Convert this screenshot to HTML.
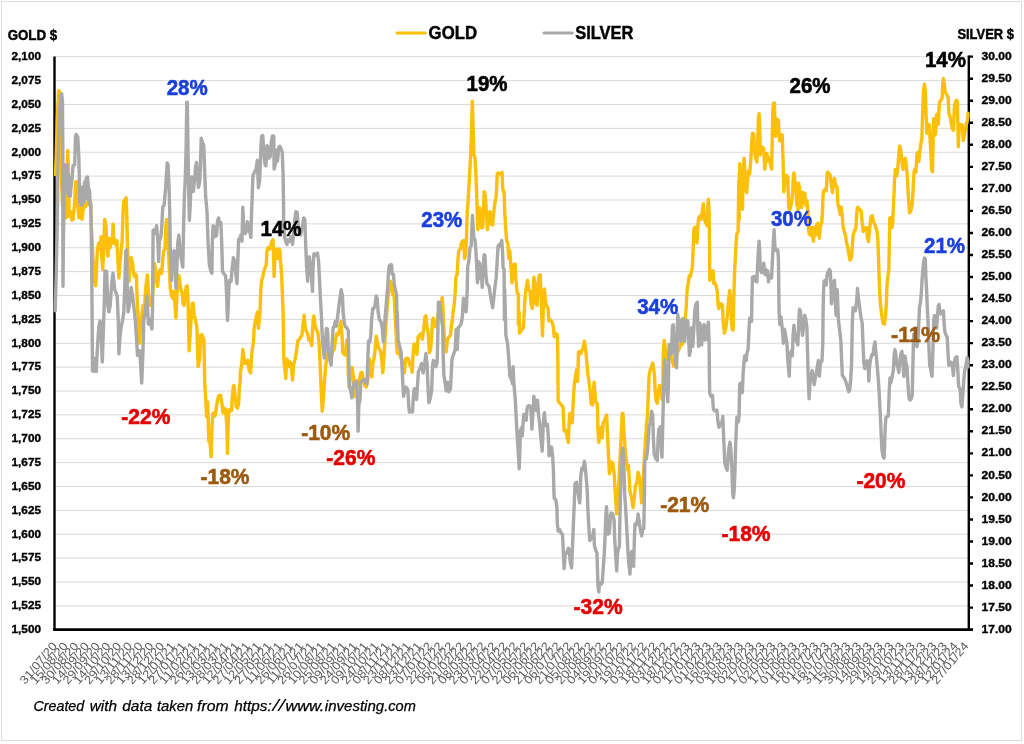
<!DOCTYPE html>
<html lang="en"><head><meta charset="utf-8"><title>Gold and Silver</title>
<style>
html,body{margin:0;padding:0;background:#fff;}
body{width:1024px;height:744px;overflow:hidden;}
svg{display:block;font-family:"Liberation Sans", sans-serif;}
.ax{font-weight:bold;font-size:11.2px;fill:#000;stroke:#000;stroke-width:.35px;}
.dt{font-size:11.6px;fill:#595959;}
.an{font-weight:bold;font-size:22.4px;stroke-width:.6px;}
.tt{font-weight:bold;fill:#000;stroke:#000;stroke-width:.45px;}
</style></head><body>
<svg width="1024" height="744" viewBox="0 0 1024 744">
<rect x="0" y="0" width="1024" height="744" fill="#fff"/>
<rect x="1.5" y="1.5" width="1020" height="739" fill="none" stroke="#dcdcdc" stroke-width="1"/>
<path d="M54.5 56.75H968.8M54.5 80.62H968.8M54.5 104.5H968.8M54.5 128.38H968.8M54.5 152.25H968.8M54.5 176.12H968.8M54.5 200H968.8M54.5 223.88H968.8M54.5 247.75H968.8M54.5 271.62H968.8M54.5 295.5H968.8M54.5 319.38H968.8M54.5 343.25H968.8M54.5 367.12H968.8M54.5 391H968.8M54.5 414.88H968.8M54.5 438.75H968.8M54.5 462.62H968.8M54.5 486.5H968.8M54.5 510.38H968.8M54.5 534.25H968.8M54.5 558.12H968.8M54.5 582H968.8M54.5 605.88H968.8" stroke="#d9d9d9" stroke-width="1" fill="none"/>
<g stroke="#000" stroke-width="2.4" fill="none">
<path d="M54.5 56.5V630.6"/>
<path d="M53.3 629.6H973" stroke-width="2.6"/>
<path d="M968.8 55.4V630.6"/>
<path d="M968.8 56.65H973M968.8 78.69H973M968.8 100.73H973M968.8 122.77H973M968.8 144.8H973M968.8 166.84H973M968.8 188.88H973M968.8 210.92H973M968.8 232.96H973M968.8 255H973M968.8 277.03H973M968.8 299.07H973M968.8 321.11H973M968.8 343.15H973M968.8 365.19H973M968.8 387.23H973M968.8 409.27H973M968.8 431.3H973M968.8 453.34H973M968.8 475.38H973M968.8 497.42H973M968.8 519.46H973M968.8 541.5H973M968.8 563.53H973M968.8 585.57H973M968.8 607.61H973"/>
</g>
<g fill="none" stroke-linejoin="round" stroke-linecap="round" stroke-width="3.4">
<polyline stroke="#fcbf0a" points="55.5,174.6 56.2,155.4 57.3,119.4 58.6,90.7 59.4,91.3 60,111.6 60.6,149.1 61.6,180.4 62.5,205.4 63.8,199.1 65,211.6 66.2,217.9 67.2,164.8 67.7,150.4 68.3,164.8 69.2,216.3 70.6,211.6 71.9,220.2 73.1,219.4 74.4,205.4 75.8,181.9 76.6,181.6 77.5,202.2 78.9,217.9 80.5,205.4 82,219.4 83.6,205.4 85.2,206.9 86.2,203 87.5,204.6 89.1,198.3 90.3,200.7 91.4,227.2 93,258.5 94.5,280.4 95.8,285.8 96.9,258.5 97.8,247.6 98.8,242.9 100,249.1 101.1,236.6 101.9,258.5 102.7,269.4 103.6,250.7 104.7,219.4 105.9,225.7 106.7,242.9 107.8,256.2 109.1,238.2 110.2,247.6 111.2,241.3 112.2,242.9 113.1,224.1 114.1,242.9 115.3,244.4 116.9,240.5 117.8,258.5 118.9,278 120,261.6 121.1,252.2 122.2,239.8 123.1,211.6 123.8,200.7 125,199.9 126.2,197.9 126.9,219.4 127.5,247.6 128.4,271 129.1,281.2 130,263.2 131.2,257.7 132.5,263.2 133.4,272.6 134.4,276.5 135.6,274.1 136.4,275.7 137,296 137.8,311.9 139.5,343.2 140.6,328.8 141.9,314.8 143,305.4 144.5,308.5 145.6,289.8 147.3,274.9 148.4,292.9 150,305.4 151.6,303.8 153.1,289.8 154.4,263.2 155.6,269.4 157.5,286.3 159.1,272.6 160.3,269.4 161.7,273.3 162.8,258.5 163.8,250.7 165,249.1 165.8,227.2 166.6,219.4 167.5,225.7 168.4,247.6 169.4,271 170.3,288.2 171.6,296 172.8,298.3 173.9,291.3 175,305.4 175.9,317.9 176.9,296 177.8,283.5 178.9,275.4 180,283.5 180.9,289.8 182,292.1 183.1,303.8 184.1,305.4 185.3,296 186.2,286.6 187.2,285.8 188.1,302.2 189.1,350.7 190.6,327.2 192.2,303.8 193.1,303 194.1,314.8 195.3,319.4 196.9,327.2 198.1,366.6 199.7,358.5 200.8,335.4 201.9,334.6 203.9,339.8 204.7,383.1 205.8,400.3 206.6,416.7 207.7,401.9 208.4,426.9 208.9,441.7 210,442.5 211.2,456.6 212,426.9 212.8,413.6 214.1,412.8 215.2,415.9 216.2,408.1 217.5,400.3 218.8,395.6 220.6,395.3 221.9,403.4 223,412.8 224.2,408.1 225.6,409.7 226.9,426.9 227.5,453.4 228.1,426.9 228.8,409.7 230,411.2 231.6,410.5 232.3,397.2 233.1,387.8 233.9,385.5 235,395.6 236.2,406.6 237.5,408.1 238.6,403.4 239.4,387.8 240.2,380 240.5,371.4 241.7,365.1 242.8,349.5 244.1,358.9 245.2,363.6 246.7,362 247.8,360.4 249.1,369.8 250.6,372.9 251.4,358.9 252.2,349.5 253.4,343.2 254.2,327.6 255.3,321.4 256.6,315.1 257.7,312 258.4,328.4 259.2,319.8 260,312 260.8,289.8 261.6,280.4 262.8,277.2 263.9,271 265,267.9 266.2,264.8 267,250.7 268.1,247.6 269.4,249.1 270.6,246.8 271.7,241.3 273,239.8 273.6,258.5 274.1,276.5 274.8,258.5 275.6,250.7 276.9,249.1 278,258.5 278.8,249.1 279.8,249.9 280.6,261.6 281.6,274.1 282.2,289.8 283.1,311.9 283.4,327.6 283.8,358.9 284.7,368.2 285.8,378.4 286.6,358.9 287.7,360.4 288.9,366.7 290,362 291.2,363.6 292.5,380 293.6,365.1 295.2,358.9 296.7,349.5 297.8,340.9 299.4,339.3 300.6,337 301.9,335.4 303,324.5 304.1,315.1 305,326.1 306.1,330.8 307.7,333.9 308.8,340.1 310,339.3 311.6,345.6 312.3,335.4 313.1,321.4 313.9,315.9 315,324.5 316.2,329.2 317.8,332.3 319.1,343.2 320.2,366.7 321.2,390.1 322.2,411.2 323.3,399.5 324.4,382.3 325.6,366.7 326.9,357.3 328.8,351.1 331.1,358.9 332.7,351.1 334.2,349.5 335,343.2 336.6,333.9 338.1,334.7 339.7,329.2 340.9,321.4 342,335.4 342.8,352.6 344.1,354.2 345.6,355 346.7,340.1 347.8,351.1 348.3,374.5 349.1,387 350.6,377.6 352.2,367.5 353.4,377.6 354.5,396.4 356.1,387 357.7,385.4 359.2,380.8 360.8,372.9 361.9,372.2 363.1,379.2 364.7,385.4 366.2,387 367.8,380.8 369.4,358.9 370.8,371.4 371.9,376.8 372.8,363.6 373.9,358.9 375,351.1 376.2,336.2 377.5,343.2 378.6,347.9 379.7,349.5 380.6,351.1 381.7,358.9 382.8,372.9 383.8,358.9 384.8,343.2 385.6,327.6 386.9,312 388,297.6 389.5,288.2 390.6,281.2 391.9,286.6 393.1,295.2 394.2,296 395,311.9 395.8,327.6 396.6,343.2 397.3,353.4 398.9,352.6 401.2,358.9 402.8,363.6 404.4,372.9 405.6,358.9 407.2,358.1 408.3,358.9 409.8,365.1 410.9,363.6 412.2,372.2 413,355.8 414.1,344 415.3,344.8 416.9,354.2 418.1,337 419.2,335.4 420.8,333.9 422.3,339.3 423.9,327.6 425,316.7 425.9,315.9 427,327.6 428.1,332.3 429.4,352.6 430.6,349.5 431.7,335.4 432.5,319.8 433.3,318.2 434.4,321.4 435.6,326.8 436.9,322.9 438.1,315.1 439.5,305.8 441.1,305.4 442.2,297.6 443.1,311.6 443.8,327.6 444.7,343.2 446.2,351.8 447.3,340.1 448.9,337 450.5,335.4 451.2,327.6 452.5,318.2 453.4,310.1 454.1,305.4 455.2,292.9 455.9,277.2 457.2,274.1 458,258.5 458.8,250.7 460.3,249.1 461.4,242.9 462.5,241.3 463.8,240.5 464.5,258.5 465.6,255.4 466.6,235.1 467.2,211.6 467.7,206.9 468.4,196 469.7,173.8 470.8,150.3 471.6,126.9 472.3,101.1 473.1,126.9 473.9,155 475,158.1 475.9,173.8 476.7,195.9 477.2,211.6 477.8,229.6 478.6,219.4 479.4,207.7 480.6,211.6 481.7,228 482.8,227.2 483.4,211.6 484.1,191.7 485.3,196 486.4,211.6 487.5,229.6 488.8,213.2 490,211.6 491.1,224.1 492.7,224.9 493.8,211.6 495,202.2 496.2,196 497.3,173.8 498.1,173 499.4,173.8 500.5,173.8 502,172.2 502.8,189.4 504.1,192.5 504.7,211.6 505.6,227.2 506.7,241.3 507.8,242.9 508.8,258.5 509.8,250.7 510.6,261.6 511.9,282.7 513,274.1 514.1,264.8 515,264 516.1,281.9 517.2,292.9 518.4,294.4 518.4,324.5 519.2,311.9 519.5,333.1 520.8,330.8 522.3,329.2 523.4,327.6 524.7,302.2 525.9,289.8 527.5,280.4 528.6,289.8 530,291.3 531.2,305.3 532.3,308.4 533.1,291.2 533.9,277.2 535,283.4 535.9,303.8 537,305.3 537.8,291.2 539.1,275.6 540.2,274.8 540.9,291.2 541.7,314.7 542.5,335.8 543.3,306.9 544.4,288.9 545.3,299.1 546.1,305.3 547.2,306.9 548,308.4 548.8,320.9 550,319.4 551.1,320.9 552.2,322.5 553.4,327.2 554.2,336.6 555.8,333.4 557.3,335 557.8,353.8 558,375.9 558.1,401 559.4,402.6 560.5,404.1 562,405.7 563.1,407.2 564.1,430.7 565.2,429.9 566.2,432.2 567.5,438.5 568.3,442.4 569.1,422.9 569.8,413.5 570.9,413.5 572.2,422.9 573,407.2 573.8,391.6 574.5,382.2 575.6,376 576.6,369.8 577.5,381.5 578.1,368.2 578.4,352.2 579.7,351.4 580.8,353.8 581.9,350.6 583.1,347.5 584.4,341.2 585.5,347.5 586.6,360 587.5,369.4 588.1,376 589.1,382.2 590.2,391.6 591.2,404.1 592.5,404.9 593.3,391.6 594.1,382.2 594.8,391.6 595.6,401.8 596.9,402.6 597.5,407.2 598,430.7 598.8,442.4 600,430.7 601.1,427.6 602.2,437.7 603.1,422.9 604.2,421.3 605.3,418.2 606.6,415.1 607.3,430.7 608.1,446.3 608.9,463.5 609.4,473.7 610.5,469.8 611.6,461.9 612.8,463.5 614.1,472.9 615.2,491.9 616.7,513.9 619.1,477.6 620.3,454.1 621.4,430.7 622.2,413.5 623,413.5 623.8,430.7 625.3,451 626.6,463.5 627.7,469.8 628.4,465.1 629.2,477.6 630,491.9 631.6,498.2 633.1,507.6 634.4,496.7 635.5,485.4 637,482.2 638.1,472.1 639.4,477.6 640.2,486.9 641.7,502.9 642.8,485.4 643.8,469.8 644.4,457.2 645.6,438.5 646.4,426 647.5,415.1 648.4,391.6 649.1,376 650.3,369.4 651.6,366.2 652.7,363.1 653.8,369.4 654.5,375.9 655,388.5 656.2,401 657.3,403.3 658.4,391.6 659.7,385.4 660.9,390.1 662,399.4 662.8,383.8 663.3,353.8 664.1,340.5 665.2,347.5 666.2,356.9 667.5,360 668.8,353.8 669.8,347.5 671.4,356.9 672.5,361.6 673.8,366.2 675.3,361.6 676.9,353.8 678.4,350.6 679.7,347.5 680.8,342.8 682.3,344.4 683.9,338.1 685,322.5 686.2,306.9 687,291.2 688.1,283.4 689.4,275.6 690.3,276.5 691.2,272.6 692.3,267.9 693.1,250.7 693.9,228.8 695,227.2 695.9,228.8 697,242.9 697.8,227.2 698.6,217.9 699.7,216.3 700.9,219.4 702.2,211.6 703.3,203.8 704.4,219.4 705.6,222.6 706.9,225.7 707.5,211.6 708.4,199.1 709.1,211.6 709.5,242.9 709.8,280.4 711.1,277.2 712.2,274.1 713.1,271 713.8,283.5 715,282.7 716.2,286.6 717.3,291.3 718.1,305.4 718.9,308.5 720,303.8 721.2,303.8 722.5,305.4 723.1,321.4 724.4,333.1 725.9,327.6 727.2,316.7 728.8,297.6 729.8,290.5 730.6,302.2 731.4,321.4 732.3,329.5 733.1,330 733.8,297.6 734.5,274.1 735.3,258.5 736.1,242.9 736.9,233.5 738.1,231.9 738.8,181.6 739.2,219.4 739.2,173.8 739.7,196 739.7,163.6 740.8,173.8 741.6,195.9 742.5,209.2 743.1,173.8 744.1,158.1 745,173.8 745.9,189.4 746.6,192.5 747.5,181.6 748.6,170.6 749.7,173.8 750.9,158.1 751.7,142.5 752.5,133.1 753.8,133.9 754.4,150.3 755.6,158.1 756.9,162 757.7,142.5 758.4,119.1 759.1,113.6 759.7,126.9 760.3,155 761.6,148.8 762.7,147.2 763.8,148.8 764.7,169.1 765.8,158.1 766.9,153.4 768.1,161.2 769.4,158.1 770.5,164.4 771.6,169.1 772.2,142.5 772.8,111.2 773.4,103.4 774.4,103.1 775.2,126.9 775.6,136.2 776.7,126.9 777.5,119.1 778.4,120.6 779.1,134.7 779.8,140.9 780.9,134.7 782.2,134.7 783,158.1 783.4,173.8 783.8,191.7 785,176.9 786.1,175.3 787.7,176.9 788.3,195.9 788.8,208.5 790,209.3 791.6,202.2 792.7,192.5 793.1,181.6 793.9,173 795,181.6 796.2,192.5 796.9,205.4 797.5,189.4 798.1,210.1 798.6,183.1 799.7,189.4 800.6,202.2 801.7,207.7 802.8,192.5 804.1,202.2 804.8,193.3 805.9,205.4 806.9,200.7 808,211.6 808.4,227.2 809.1,233.5 810.3,235.1 811.6,227.2 812.7,236.6 813.4,241.3 814.7,227.2 815.8,235.1 816.9,224.1 818.1,223.3 819.4,238.2 820.5,225.7 821.6,224.1 822.5,211.6 823,196 823.6,190.9 825.2,189.4 826.2,190.9 827.2,173.8 827.8,172.2 829.1,173.8 830.3,175.3 831.4,186.2 832.5,192.5 833.4,181.6 834.5,178.4 835.6,186.2 836.9,186.2 837.5,195.9 837.8,203.8 839.2,208.5 840.3,214.8 841.2,206.9 842.3,216.3 843.1,227.2 844.4,231.9 845.5,235.1 846.6,242.9 847.8,247.6 849.1,255.4 850,260.1 850.8,258.8 851.6,257.2 852.3,246.3 853.1,235.4 854.4,230.7 855.5,229.9 856.2,222.9 857,210.4 857.8,207.2 859.1,208.8 860.2,210.4 861.2,211.2 862.2,222.9 863.3,231.5 864.4,229.1 865.6,227.6 866.9,227.6 867.5,238.5 868.4,241.6 869.5,230.7 870.3,222.9 871.1,216.6 872.2,215.8 873.4,221.3 874.7,224.4 875.8,227.6 876.9,230.7 877.8,238.5 878.4,254.1 879.1,277.6 879.7,291.9 880.5,304.5 882,317 883.1,323.2 884.4,324 885.6,315.4 886.4,301.4 887,285.4 887.8,277.6 888.8,269.8 889.4,238.5 889.8,218.2 890.9,217.4 891.9,227.6 892.7,222.9 893.4,207.2 894.1,191.6 894.5,180.7 895.3,169.4 896.6,175.9 897.7,169.4 898.8,153.8 899.7,145.9 900.8,150.6 901.9,161.6 903.1,169.4 904.4,160 905.5,158.4 906.6,169.4 907.3,175.9 908.1,191.6 909.1,207.2 909.7,212.7 910.9,210.4 912.2,204.1 913,191.6 913.4,182.2 914.1,171.2 914.8,169.4 915.9,172.5 916.9,153.8 918,152.2 918.8,161.6 919.5,153.8 920.6,145.9 921.9,138.1 922.7,110 923.4,91.2 924.4,84.2 925.3,91.2 926.2,117.8 926.9,133.4 928.1,124.1 929.4,125.6 930,138.1 930.9,153.8 931.6,169.4 932.5,171.7 933.1,138.1 933.6,118.6 934.4,119.4 935.2,135 935.9,128.8 936.7,114.7 937.5,113.9 938.4,124.1 939.1,106.9 939.8,101.4 940.9,100.6 942.2,97.5 942.8,83.4 943.4,78.4 944.2,83.4 945,91.2 946.1,93.6 947.2,95.9 948.1,96.7 948.8,113.1 950,116.2 951.2,122.5 952.3,128.8 953.4,130.3 954.4,106.9 955.5,101.4 956.6,100.3 957.3,101.4 957.8,122.5 958.3,146.7 959.1,130.3 959.7,124.1 960.9,125.6 962.2,124.8 963.3,140.5 964.4,135 965.6,127.2 966.9,122.5 968,116.2 968,113.1"/>
<polyline stroke="#a9a9a9" points="55.2,310.8 56.2,274.1 57.2,227.2 57.8,180.4 58.6,141.3 59.7,110.1 60.6,96 61.7,93.7 62.5,102.2 62.8,149.1 62.9,242.9 63,286.3 63.4,242.9 64.1,196 64.5,164.8 65.2,189.8 65.8,167.9 66.4,192.9 67,164.8 67.7,189.8 68.3,174.1 68.9,196 69.5,177.2 70.3,196 71.1,186.6 71.9,180.4 73.1,165.5 74.7,164.8 75.5,136.6 76.2,134.3 77.8,137.4 78.8,156.9 79.4,180.4 79.8,202.2 80.5,191.3 80.9,205.4 81.7,187.4 82.3,203.8 83.1,186.6 83.8,202.2 84.5,181.9 85.3,199.1 86.2,178 86.9,189.8 87.5,176.9 88.3,186.6 88.9,200.7 89.5,189.8 90.2,205.4 90.9,203.8 91.4,242.9 91.9,289.8 92.5,371 93.4,371.3 94.8,358.5 96.2,371.6 97.7,342.9 98.8,327.2 100,321 101.2,336.6 102.3,361.9 103.4,328.8 104.2,305.4 105,271 106.6,271.3 107.8,305.4 108.9,311.9 110.2,305.4 111.7,283.5 113,273.3 114.1,283.5 114.8,289.8 117.2,296 118.3,321 118.9,353.8 120,336.6 121.1,327.2 122.7,319.4 123.8,311.9 124.7,289.8 125.8,250.7 126.6,249.9 127.3,289.8 128.1,311.9 129.4,305.4 131.2,287.4 132.8,297.6 134.4,311.9 135.2,319.4 136.4,336.6 137.5,355.4 139.8,350.7 141.7,383 143,350.7 143.8,319.4 145.3,311.9 146.9,296 148.4,324.1 150,319.4 151.9,329.1 152.5,311.9 153.1,230.4 154.4,229.6 155.5,233.5 156.6,225.7 157.8,239.8 158.6,261.6 159.4,241.3 160.9,236.6 161.7,227.2 162.8,206.9 164.1,205.4 165.6,188.2 167.2,162.9 168.1,164.8 169.1,188.2 169.7,211.6 170.3,249.1 171.6,280.4 172.7,253.8 174.2,250.7 175,255.4 175.9,288.2 176.9,267.9 177.8,242.9 178.8,235.1 180,249.1 181.2,258.5 182.8,267.1 183.6,227.2 184.4,196 185.2,180.4 186.1,149.1 186.8,102.2 187.3,102.2 188,149.1 188.8,196 189.4,220.2 190.3,203.8 191.1,180.4 191.6,176.9 192.5,188.2 193.4,191.3 194.5,180.4 195.6,166.3 196.6,162.4 197.7,177.2 198.4,187.4 199.7,181.9 200.5,164.8 201.2,138.2 202.3,141.3 203.8,145.7 204.7,172.6 205.6,196 207,211.6 208.1,242.9 209.4,264.8 210.8,271 211.9,273.3 212.3,242.9 213.1,225.7 214.4,227.2 215.5,236.6 216.6,235.1 217.5,221 218.6,217.9 219.7,224.1 220.9,222.6 221.7,242.9 222.5,271 224.1,274.1 225.6,275.7 226.4,289.8 227.2,311.9 227.5,320.5 228,311.9 228.8,289.8 229.5,280.4 231.1,281.2 231.9,271 233.4,257.7 234.7,261.6 235.8,274.1 237,283.5 237.8,261.6 238.6,239.8 239.7,238.2 240.9,235.1 242,241.3 242.8,207.2 243.8,227.2 245.2,233.5 246.2,231.9 247.5,221.8 248.8,227.2 249.8,231.9 250.9,237.4 251.6,211.6 252.2,196 253,175.3 254.5,172.2 256.1,169.1 257.3,160.5 258.4,187.8 259.7,180 260.8,150.3 261.6,136.2 262.8,135.5 263.9,155 265,164.4 265.9,165.9 267,145.6 268.1,147.2 269.1,158.1 270.2,156.6 271.2,142.5 272.5,135.9 273.8,136.2 274.1,169.1 275.3,164.4 276.4,150.3 277.5,161.2 278.8,147.2 279.8,146.4 281.1,148.8 282.2,151.9 283.1,173.8 283.4,195.9 283.8,227.2 284.7,238.2 285.8,241.3 287,244.4 288.1,239.8 289.4,241.3 291.2,236.6 292.5,244.4 293.6,235.1 294.8,219.4 295.9,211.6 297.2,212.4 298.3,227.2 299.4,233.5 300.6,235.1 302.2,227.2 303.8,217.9 304.8,219.4 305.6,242.9 306.6,266.3 307.7,281.2 308.4,258.5 309.4,256.9 310.3,266.3 311.6,277.2 312.5,291.3 313.1,266.3 313.9,253.8 315,255.4 316.2,254.6 317.5,253 318.6,261.6 319.4,277.2 320.3,296 321.2,311.9 322.2,335.4 323.3,351.1 324.4,358.1 325.3,343.2 326.4,328.4 327.5,329.2 328.4,351.1 329.5,358.9 331.1,365.1 332.2,343.2 333.1,327.6 334.2,326.8 335.3,321.4 336.6,326.1 337.8,315.1 338.9,305.8 340,297.6 341.2,289.8 342.5,296.4 343.1,312 344.1,321.4 345.3,326.8 346.7,327.6 348.3,330.8 348.8,358.9 349.4,387 350.6,390.1 351.9,397.9 353,387 354.1,382.3 355.3,385.4 356.6,380.8 357.7,405.8 358.1,431.1 358.8,405.8 360,399.5 360.8,382.3 362.3,380.8 363.9,379.2 365.5,382.3 367,383.9 367.8,358.9 368.6,340.9 370,341.7 370.8,335.4 371.6,319.8 372.8,308.5 373.9,308.5 375,305.4 376.2,296 377.3,299.1 378.1,311.9 379.4,319.8 380.9,321.4 382.2,327.6 383.3,341.7 384.4,327.6 385.3,315.1 386.4,302.2 387.5,289.8 388.4,274.1 389.1,266.3 390.3,264.8 391.6,264.8 392.2,274.1 393.4,274.1 394.2,283.5 395.3,289.8 396.6,294.4 396.9,327.6 397.3,311.9 398.1,340.1 399.7,346.4 401.2,352.6 402,366.7 402.8,383.9 403.6,396.4 405.2,387 406.7,387.8 407.8,390.1 408.8,405.8 409.4,412 410.9,411.2 412.5,412 413.4,396.4 414.2,388.6 415.3,391.7 416.6,399.5 417.7,382.3 418.4,371.4 420,368.2 421.6,363.6 423.1,372.9 424.7,363.6 425.9,353.4 427,363.6 427.8,382.3 428.8,402.6 430.2,398.7 431.7,390.1 432.5,366.7 433.3,360.4 434.8,362 435.9,366.7 437.2,362 438,327.6 438.4,302.2 439.5,302.2 440.6,311.9 442.7,327.6 443.1,351.1 443.8,374.5 445,382.3 446.2,390.9 447.8,382.3 448.9,391.7 450.5,388.6 451.2,374.5 452,358.9 453.6,354.2 455.2,349.5 456.2,329.2 457.2,349.5 458.3,327.6 459.8,326.1 461.4,322.9 462.5,315.1 463.4,298.3 465,305.4 466.1,311.9 466.6,305.4 467.2,289.8 467.7,266.3 468.8,261.6 470,247.6 471.2,246 471.9,227.2 472.5,215.5 473.1,227.2 473.9,238.2 475,239.8 475.9,250.7 476.7,266.3 477.5,282.7 478.6,261.6 479.7,263.2 480.6,278.8 481.2,267.9 482.2,287.4 483.3,266.3 484.1,254.6 485,255.4 485.9,274.1 486.9,283.5 488,285.1 489.1,286.6 490.3,294.4 491.6,302.2 492.7,307.7 493.8,297.6 495,286.6 496.2,277.2 497.3,258.5 498.1,246 499.4,244.4 500.5,246 501.7,240.5 502.5,250.7 503.1,267.9 504.1,269.4 504.4,319.8 504.7,289.8 505.3,311.9 505.9,335.4 507.5,343.2 508.8,358.9 509.8,376.1 511.4,379.2 512.5,383.9 513.1,366.7 513.8,382.3 515.3,400 516.1,415.6 516.9,431.2 517.7,443.8 518.4,454.7 519.2,468.8 520,446.9 520.3,431.2 521.2,428.1 522.3,435.9 523.1,423.4 523.9,414.1 525.5,415.6 526.2,420.3 527,409.4 527.8,406.2 529.4,405.5 530.8,407.2 531.9,429.1 532.8,415.1 533.9,396.3 535,407.2 536.2,410.4 537.5,400.2 538.6,415.1 539.7,424.4 540.9,438.5 542.2,451 543.3,422.9 544.4,412.7 545.3,422.9 546.4,426 547.5,424.4 548.4,438.5 549.1,455.7 550.3,449.4 551.6,447.1 552.7,457.2 553.4,469.8 553.9,491.9 554.2,498.2 555.8,499.8 556.9,507.6 557.3,523.2 558.1,531.1 559.7,529.5 561.2,533.4 562.5,534.2 563.1,546.7 563.6,557.6 564.1,568.6 565.2,554.5 566.7,552.9 568.3,548.2 569.1,549.8 570.3,562.3 571.6,567.8 572.5,546.7 573.4,523.2 574.1,507.6 574.7,492 575,483.8 576.6,482.2 577.7,488.5 578.4,495.1 579.7,502.9 580.3,492 580.8,476 581.9,468.2 583.1,469.8 584.4,461.2 585.5,469.8 586.6,482.2 587.3,491.9 587.8,507.6 589.1,531.1 589.7,540.4 590.9,538.9 592.5,537.3 593.8,529.5 594.4,545.1 595.6,549.8 596.9,552.9 597.5,570.1 598,585.8 598.8,592 599.5,582.6 601.1,584.2 602.2,582.6 603.1,570.1 604.2,554.5 605,538.9 605.8,515.4 606.6,506.8 607.3,523.2 608.1,534.2 609.4,532.6 610.5,515.4 611.2,513.1 612.8,513.9 614.1,520.1 614.7,538.9 615.6,554.5 616.7,570.9 617.5,554.5 618.3,548.2 619.4,546.7 619.8,523.2 620.6,492 621.2,469.8 621.9,454.1 622.7,447.9 623.4,454.1 624.2,477.6 624.8,496.7 625.6,507.6 626.9,531.1 628.1,554.5 629.2,567 630,574 630.8,554.5 631.9,551.4 632.8,565.4 633.6,566.2 634.4,538.9 635,524 636.2,524.8 637.5,520.1 638.1,513.9 639.4,523.2 640.6,531.1 641.7,535.8 642.8,529.5 643.8,528.7 644.2,507.6 644.5,492 644.8,460.4 646.4,458.8 647.5,451 648.4,438.5 649.1,426 650.3,422.9 651.6,411.2 652.7,415.1 653.4,438.5 654.2,454.1 655.8,458.8 657.3,460.4 658.1,438.5 658.9,429.1 660.5,426.8 661.2,446.3 662,457.2 662.8,422.9 663.6,391.6 664.1,376 664.7,360 665.9,369.4 666.9,388.5 667.8,401.8 668.4,383.8 669.1,344.4 670.2,347.5 671.4,353.8 672.5,325.6 673.4,324.8 674.5,345.9 675.3,360 676.6,367.8 677.2,338.1 677.7,313.9 678.8,322.5 679.7,336.6 680.8,341.2 681.9,319.4 683.1,318.6 683.9,338.1 684.7,341.2 685.5,322.5 686.6,320.2 687.8,320.9 688.6,338.1 689.4,355.3 690.3,351.1 690.8,335.4 691.6,327.6 692.8,346.4 693.9,327.6 694.7,312 695.5,305.4 696.2,303.8 697.3,302.2 697.8,327.6 698.6,346.4 699.7,322.9 700.9,327.6 701.7,344.8 702.8,327.6 704.1,324.5 705.3,340.1 706.4,338.6 707.5,327.6 708.4,322.2 709.1,343.2 709.4,374.5 709.7,393.2 711.1,396.4 712.5,395.6 713.4,409.4 715,410.9 716.9,410.2 717.8,420.3 718.9,427.3 720.5,425 722,421.9 722.8,416.4 723.4,431.2 724.1,446.9 724.7,462.5 725.9,467.2 727.2,470.3 728.3,454.7 729.1,446.9 730,442.2 730.9,450 731.6,462.5 732.2,478.1 732.7,493.8 733.4,497.7 734.2,490.6 735,470.3 735.6,446.9 736.2,431.2 736.9,417.2 738.4,421.9 739.1,415.6 739.4,399.5 739.7,383.9 741.2,383.1 742.3,392.5 743.1,374.5 743.9,363.6 744.7,355.8 746.2,360.4 747,352.6 748.1,349.5 749.1,327.6 749.7,318.2 750.9,317.5 751.6,321.4 751.9,297.6 752.2,289.8 752.5,277.2 754.1,276.5 755.3,280.4 756.9,281.9 757.5,266.3 758.4,250.7 759.1,241.3 759.7,250.7 760.3,269.4 761.6,272.6 762.7,267.9 763.8,263.2 764.7,274.1 765.8,269.4 766.9,275.7 767.8,271 768.4,281.9 769.4,277.2 770.5,275.7 771.6,278 772.5,258.5 773.3,242.9 774.1,229.6 774.7,242.9 775.3,249.9 776.7,250.7 777.8,249.9 778.4,258.5 778.8,289.8 779.1,311.9 779.8,324.5 780.9,316.7 782.2,327.6 783.4,343.2 784.5,329.2 785.6,335.4 786.9,343.2 787.7,358.9 788.4,366.7 789.2,376.1 790,355.8 791.2,351.1 792.3,355.8 793.1,335.4 793.9,325.3 795,335.4 796.2,340.1 797.8,344.8 798.6,327.6 799.2,312 799.7,309.3 800.6,312 801.7,327.6 802.5,335.4 803.8,324.5 804.8,315.1 805.9,319.8 806.9,327.6 807.5,351.1 808.1,374.5 809.1,398.7 810,382.3 811.1,374.5 812.2,370.6 813.1,377.6 814.2,384.7 815.3,377.6 816.6,371.4 817.8,363.6 818.4,360.4 819.4,376.1 820.5,362 822,361.2 822.8,343.2 823.1,312 823.6,289.8 824.1,281.2 825.2,280.4 826.2,285.1 827.2,274.1 828.3,271.8 829.4,269.4 830.3,271 830.9,283.5 831.4,303.8 832.5,289.8 833.4,283.5 834.5,280.4 835.3,302.2 836.1,315.1 837.2,289.8 838.4,319.8 839.7,330.8 840.8,340.1 841.6,358.9 842.3,375.3 843.9,377.6 845.5,380.8 847,385.4 848.6,391.7 849.7,390.1 850.8,377.9 851.6,362.3 852.3,323.2 853.1,307.6 854.4,309.2 855.5,310.8 856.6,301.4 857.5,288.5 858.6,299.8 859.7,307.6 860.9,317 862.2,323.2 862.8,338.9 863.8,362.3 864.8,368.6 865.9,363.9 867.2,360.8 868,362.3 868.8,381.1 869.5,367 870.6,359.2 871.9,354.5 873.1,354.5 874.2,345.1 875,342 875.8,351.4 876.6,359.2 877.8,373.2 878.9,387.8 879.7,403.4 880.5,419.1 881.2,434.7 882,450.3 883.1,456.6 884.1,458.1 884.7,442.5 885.2,426.9 885.9,417.5 887.2,416.7 888.3,415.9 888.8,403.4 889.4,387.8 890,377.9 890.9,382.6 892.2,376.4 893.4,370.1 894.2,354.5 895,349.8 895.8,354.5 896.6,363.9 897.7,367 898.8,372.5 899.7,362.3 900.8,354.5 901.9,351.4 902.8,362.3 903.9,376.4 904.4,357.6 905,356.1 905.9,362.3 907,367 907.8,381.1 908.6,392.5 909.2,399.1 910.2,400 911.2,398.8 912.2,395.6 912.8,370.1 913.3,346.7 913.8,334.2 914.8,335.8 915.6,343.6 916.9,346.7 918,338.9 918.8,323.2 919.5,307.6 920.6,301.4 921.4,292 922.2,277.6 923.4,263.5 924.4,258 925.3,258.8 925.9,277.6 926.7,291.9 927.3,307.6 928.1,323.2 928.9,346.7 929.7,365.4 930.9,370.1 932,376.4 932.8,354.5 933.6,323.2 934.4,315.4 935.2,323.2 935.9,324.8 936.7,327.9 937.5,315.4 938.3,306.1 939.1,304.5 939.8,310.8 940.9,313.9 942.2,312.3 943.4,310.8 944.1,323.2 945,332.6 946.1,335 947.2,337.3 948.1,354.5 948.8,365.4 950,364.7 951.2,362.3 952.3,365.4 953.4,375.6 954.4,362.3 955.5,357.6 957,356.8 957.8,370.1 958.6,386.2 960.2,389.4 960.9,403.4 961.9,406.9 962.8,395.6 963.8,379.5 964.8,370.1 965.9,365.4 967.2,357.6 968,360.8 968,367"/>
</g>
<text class="ax" x="41" y="60" text-anchor="end" textLength="29.5" lengthAdjust="spacingAndGlyphs">2,100</text>
<text class="ax" x="41" y="83.88" text-anchor="end" textLength="29.5" lengthAdjust="spacingAndGlyphs">2,075</text>
<text class="ax" x="41" y="107.75" text-anchor="end" textLength="29.5" lengthAdjust="spacingAndGlyphs">2,050</text>
<text class="ax" x="41" y="131.62" text-anchor="end" textLength="29.5" lengthAdjust="spacingAndGlyphs">2,025</text>
<text class="ax" x="41" y="155.5" text-anchor="end" textLength="29.5" lengthAdjust="spacingAndGlyphs">2,000</text>
<text class="ax" x="41" y="179.38" text-anchor="end" textLength="29.5" lengthAdjust="spacingAndGlyphs">1,975</text>
<text class="ax" x="41" y="203.25" text-anchor="end" textLength="29.5" lengthAdjust="spacingAndGlyphs">1,950</text>
<text class="ax" x="41" y="227.12" text-anchor="end" textLength="29.5" lengthAdjust="spacingAndGlyphs">1,925</text>
<text class="ax" x="41" y="251" text-anchor="end" textLength="29.5" lengthAdjust="spacingAndGlyphs">1,900</text>
<text class="ax" x="41" y="274.88" text-anchor="end" textLength="29.5" lengthAdjust="spacingAndGlyphs">1,875</text>
<text class="ax" x="41" y="298.75" text-anchor="end" textLength="29.5" lengthAdjust="spacingAndGlyphs">1,850</text>
<text class="ax" x="41" y="322.62" text-anchor="end" textLength="29.5" lengthAdjust="spacingAndGlyphs">1,825</text>
<text class="ax" x="41" y="346.5" text-anchor="end" textLength="29.5" lengthAdjust="spacingAndGlyphs">1,800</text>
<text class="ax" x="41" y="370.38" text-anchor="end" textLength="29.5" lengthAdjust="spacingAndGlyphs">1,775</text>
<text class="ax" x="41" y="394.25" text-anchor="end" textLength="29.5" lengthAdjust="spacingAndGlyphs">1,750</text>
<text class="ax" x="41" y="418.12" text-anchor="end" textLength="29.5" lengthAdjust="spacingAndGlyphs">1,725</text>
<text class="ax" x="41" y="442" text-anchor="end" textLength="29.5" lengthAdjust="spacingAndGlyphs">1,700</text>
<text class="ax" x="41" y="465.88" text-anchor="end" textLength="29.5" lengthAdjust="spacingAndGlyphs">1,675</text>
<text class="ax" x="41" y="489.75" text-anchor="end" textLength="29.5" lengthAdjust="spacingAndGlyphs">1,650</text>
<text class="ax" x="41" y="513.62" text-anchor="end" textLength="29.5" lengthAdjust="spacingAndGlyphs">1,625</text>
<text class="ax" x="41" y="537.5" text-anchor="end" textLength="29.5" lengthAdjust="spacingAndGlyphs">1,600</text>
<text class="ax" x="41" y="561.38" text-anchor="end" textLength="29.5" lengthAdjust="spacingAndGlyphs">1,575</text>
<text class="ax" x="41" y="585.25" text-anchor="end" textLength="29.5" lengthAdjust="spacingAndGlyphs">1,550</text>
<text class="ax" x="41" y="609.12" text-anchor="end" textLength="29.5" lengthAdjust="spacingAndGlyphs">1,525</text>
<text class="ax" x="41" y="633" text-anchor="end" textLength="29.5" lengthAdjust="spacingAndGlyphs">1,500</text>
<text class="ax" x="981.5" y="59.8" textLength="30.2" lengthAdjust="spacingAndGlyphs">30.00</text>
<text class="ax" x="981.5" y="81.84" textLength="30.2" lengthAdjust="spacingAndGlyphs">29.50</text>
<text class="ax" x="981.5" y="103.88" textLength="30.2" lengthAdjust="spacingAndGlyphs">29.00</text>
<text class="ax" x="981.5" y="125.92" textLength="30.2" lengthAdjust="spacingAndGlyphs">28.50</text>
<text class="ax" x="981.5" y="147.95" textLength="30.2" lengthAdjust="spacingAndGlyphs">28.00</text>
<text class="ax" x="981.5" y="169.99" textLength="30.2" lengthAdjust="spacingAndGlyphs">27.50</text>
<text class="ax" x="981.5" y="192.03" textLength="30.2" lengthAdjust="spacingAndGlyphs">27.00</text>
<text class="ax" x="981.5" y="214.07" textLength="30.2" lengthAdjust="spacingAndGlyphs">26.50</text>
<text class="ax" x="981.5" y="236.11" textLength="30.2" lengthAdjust="spacingAndGlyphs">26.00</text>
<text class="ax" x="981.5" y="258.15" textLength="30.2" lengthAdjust="spacingAndGlyphs">25.50</text>
<text class="ax" x="981.5" y="280.18" textLength="30.2" lengthAdjust="spacingAndGlyphs">25.00</text>
<text class="ax" x="981.5" y="302.22" textLength="30.2" lengthAdjust="spacingAndGlyphs">24.50</text>
<text class="ax" x="981.5" y="324.26" textLength="30.2" lengthAdjust="spacingAndGlyphs">24.00</text>
<text class="ax" x="981.5" y="346.3" textLength="30.2" lengthAdjust="spacingAndGlyphs">23.50</text>
<text class="ax" x="981.5" y="368.34" textLength="30.2" lengthAdjust="spacingAndGlyphs">23.00</text>
<text class="ax" x="981.5" y="390.38" textLength="30.2" lengthAdjust="spacingAndGlyphs">22.50</text>
<text class="ax" x="981.5" y="412.42" textLength="30.2" lengthAdjust="spacingAndGlyphs">22.00</text>
<text class="ax" x="981.5" y="434.45" textLength="30.2" lengthAdjust="spacingAndGlyphs">21.50</text>
<text class="ax" x="981.5" y="456.49" textLength="30.2" lengthAdjust="spacingAndGlyphs">21.00</text>
<text class="ax" x="981.5" y="478.53" textLength="30.2" lengthAdjust="spacingAndGlyphs">20.50</text>
<text class="ax" x="981.5" y="500.57" textLength="30.2" lengthAdjust="spacingAndGlyphs">20.00</text>
<text class="ax" x="981.5" y="522.61" textLength="30.2" lengthAdjust="spacingAndGlyphs">19.50</text>
<text class="ax" x="981.5" y="544.65" textLength="30.2" lengthAdjust="spacingAndGlyphs">19.00</text>
<text class="ax" x="981.5" y="566.68" textLength="30.2" lengthAdjust="spacingAndGlyphs">18.50</text>
<text class="ax" x="981.5" y="588.72" textLength="30.2" lengthAdjust="spacingAndGlyphs">18.00</text>
<text class="ax" x="981.5" y="610.76" textLength="30.2" lengthAdjust="spacingAndGlyphs">17.50</text>
<text class="ax" x="981.5" y="632.8" textLength="30.2" lengthAdjust="spacingAndGlyphs">17.00</text>
<text class="tt" x="7.7" y="40.2" font-size="14.2" textLength="49.4" lengthAdjust="spacingAndGlyphs">GOLD $</text>
<text class="tt" x="957.4" y="39.3" font-size="14.4" textLength="56.6" lengthAdjust="spacingAndGlyphs">SILVER $</text>
<path d="M397 32.9H425.3" stroke="#fcbf0a" stroke-width="3" stroke-linecap="round"/>
<text class="tt" x="428.6" y="38.9" font-size="18.3" textLength="48.4" lengthAdjust="spacingAndGlyphs">GOLD</text>
<path d="M544 32.9H572.3" stroke="#a9a9a9" stroke-width="3" stroke-linecap="round"/>
<text class="tt" x="575.2" y="38.9" font-size="18.3" textLength="58.2" lengthAdjust="spacingAndGlyphs">SILVER</text>
<text class="dt" transform="translate(57.6 646.2) rotate(-50)" text-anchor="end" textLength="50.6" lengthAdjust="spacingAndGlyphs">31/07/20</text>
<text class="dt" transform="translate(68.32 646.2) rotate(-50)" text-anchor="end" textLength="50.6" lengthAdjust="spacingAndGlyphs">15/08/20</text>
<text class="dt" transform="translate(79.05 646.2) rotate(-50)" text-anchor="end" textLength="50.6" lengthAdjust="spacingAndGlyphs">30/08/20</text>
<text class="dt" transform="translate(89.77 646.2) rotate(-50)" text-anchor="end" textLength="50.6" lengthAdjust="spacingAndGlyphs">14/09/20</text>
<text class="dt" transform="translate(100.5 646.2) rotate(-50)" text-anchor="end" textLength="50.6" lengthAdjust="spacingAndGlyphs">29/09/20</text>
<text class="dt" transform="translate(111.22 646.2) rotate(-50)" text-anchor="end" textLength="50.6" lengthAdjust="spacingAndGlyphs">14/10/20</text>
<text class="dt" transform="translate(121.95 646.2) rotate(-50)" text-anchor="end" textLength="50.6" lengthAdjust="spacingAndGlyphs">29/10/20</text>
<text class="dt" transform="translate(132.67 646.2) rotate(-50)" text-anchor="end" textLength="50.6" lengthAdjust="spacingAndGlyphs">13/11/20</text>
<text class="dt" transform="translate(143.4 646.2) rotate(-50)" text-anchor="end" textLength="50.6" lengthAdjust="spacingAndGlyphs">28/11/20</text>
<text class="dt" transform="translate(154.12 646.2) rotate(-50)" text-anchor="end" textLength="50.6" lengthAdjust="spacingAndGlyphs">13/12/20</text>
<text class="dt" transform="translate(164.85 646.2) rotate(-50)" text-anchor="end" textLength="50.6" lengthAdjust="spacingAndGlyphs">28/12/20</text>
<text class="dt" transform="translate(175.57 646.2) rotate(-50)" text-anchor="end" textLength="50.6" lengthAdjust="spacingAndGlyphs">12/01/21</text>
<text class="dt" transform="translate(186.3 646.2) rotate(-50)" text-anchor="end" textLength="50.6" lengthAdjust="spacingAndGlyphs">27/01/21</text>
<text class="dt" transform="translate(197.02 646.2) rotate(-50)" text-anchor="end" textLength="50.6" lengthAdjust="spacingAndGlyphs">11/02/21</text>
<text class="dt" transform="translate(207.75 646.2) rotate(-50)" text-anchor="end" textLength="50.6" lengthAdjust="spacingAndGlyphs">26/02/21</text>
<text class="dt" transform="translate(218.47 646.2) rotate(-50)" text-anchor="end" textLength="50.6" lengthAdjust="spacingAndGlyphs">13/03/21</text>
<text class="dt" transform="translate(229.2 646.2) rotate(-50)" text-anchor="end" textLength="50.6" lengthAdjust="spacingAndGlyphs">28/03/21</text>
<text class="dt" transform="translate(239.92 646.2) rotate(-50)" text-anchor="end" textLength="50.6" lengthAdjust="spacingAndGlyphs">12/04/21</text>
<text class="dt" transform="translate(250.64 646.2) rotate(-50)" text-anchor="end" textLength="50.6" lengthAdjust="spacingAndGlyphs">27/04/21</text>
<text class="dt" transform="translate(261.37 646.2) rotate(-50)" text-anchor="end" textLength="50.6" lengthAdjust="spacingAndGlyphs">12/05/21</text>
<text class="dt" transform="translate(272.09 646.2) rotate(-50)" text-anchor="end" textLength="50.6" lengthAdjust="spacingAndGlyphs">27/05/21</text>
<text class="dt" transform="translate(282.82 646.2) rotate(-50)" text-anchor="end" textLength="50.6" lengthAdjust="spacingAndGlyphs">11/06/21</text>
<text class="dt" transform="translate(293.54 646.2) rotate(-50)" text-anchor="end" textLength="50.6" lengthAdjust="spacingAndGlyphs">26/06/21</text>
<text class="dt" transform="translate(304.27 646.2) rotate(-50)" text-anchor="end" textLength="50.6" lengthAdjust="spacingAndGlyphs">11/07/21</text>
<text class="dt" transform="translate(314.99 646.2) rotate(-50)" text-anchor="end" textLength="50.6" lengthAdjust="spacingAndGlyphs">26/07/21</text>
<text class="dt" transform="translate(325.72 646.2) rotate(-50)" text-anchor="end" textLength="50.6" lengthAdjust="spacingAndGlyphs">10/08/21</text>
<text class="dt" transform="translate(336.44 646.2) rotate(-50)" text-anchor="end" textLength="50.6" lengthAdjust="spacingAndGlyphs">25/08/21</text>
<text class="dt" transform="translate(347.17 646.2) rotate(-50)" text-anchor="end" textLength="50.6" lengthAdjust="spacingAndGlyphs">09/09/21</text>
<text class="dt" transform="translate(357.89 646.2) rotate(-50)" text-anchor="end" textLength="50.6" lengthAdjust="spacingAndGlyphs">24/09/21</text>
<text class="dt" transform="translate(368.62 646.2) rotate(-50)" text-anchor="end" textLength="50.6" lengthAdjust="spacingAndGlyphs">09/10/21</text>
<text class="dt" transform="translate(379.34 646.2) rotate(-50)" text-anchor="end" textLength="50.6" lengthAdjust="spacingAndGlyphs">24/10/21</text>
<text class="dt" transform="translate(390.07 646.2) rotate(-50)" text-anchor="end" textLength="50.6" lengthAdjust="spacingAndGlyphs">08/11/21</text>
<text class="dt" transform="translate(400.79 646.2) rotate(-50)" text-anchor="end" textLength="50.6" lengthAdjust="spacingAndGlyphs">23/11/21</text>
<text class="dt" transform="translate(411.52 646.2) rotate(-50)" text-anchor="end" textLength="50.6" lengthAdjust="spacingAndGlyphs">08/12/21</text>
<text class="dt" transform="translate(422.24 646.2) rotate(-50)" text-anchor="end" textLength="50.6" lengthAdjust="spacingAndGlyphs">23/12/21</text>
<text class="dt" transform="translate(432.96 646.2) rotate(-50)" text-anchor="end" textLength="50.6" lengthAdjust="spacingAndGlyphs">07/01/22</text>
<text class="dt" transform="translate(443.69 646.2) rotate(-50)" text-anchor="end" textLength="50.6" lengthAdjust="spacingAndGlyphs">22/01/22</text>
<text class="dt" transform="translate(454.41 646.2) rotate(-50)" text-anchor="end" textLength="50.6" lengthAdjust="spacingAndGlyphs">06/02/22</text>
<text class="dt" transform="translate(465.14 646.2) rotate(-50)" text-anchor="end" textLength="50.6" lengthAdjust="spacingAndGlyphs">21/02/22</text>
<text class="dt" transform="translate(475.86 646.2) rotate(-50)" text-anchor="end" textLength="50.6" lengthAdjust="spacingAndGlyphs">08/03/22</text>
<text class="dt" transform="translate(486.59 646.2) rotate(-50)" text-anchor="end" textLength="50.6" lengthAdjust="spacingAndGlyphs">23/03/22</text>
<text class="dt" transform="translate(497.31 646.2) rotate(-50)" text-anchor="end" textLength="50.6" lengthAdjust="spacingAndGlyphs">07/04/22</text>
<text class="dt" transform="translate(508.04 646.2) rotate(-50)" text-anchor="end" textLength="50.6" lengthAdjust="spacingAndGlyphs">22/04/22</text>
<text class="dt" transform="translate(518.76 646.2) rotate(-50)" text-anchor="end" textLength="50.6" lengthAdjust="spacingAndGlyphs">07/05/22</text>
<text class="dt" transform="translate(529.49 646.2) rotate(-50)" text-anchor="end" textLength="50.6" lengthAdjust="spacingAndGlyphs">22/05/22</text>
<text class="dt" transform="translate(540.21 646.2) rotate(-50)" text-anchor="end" textLength="50.6" lengthAdjust="spacingAndGlyphs">06/06/22</text>
<text class="dt" transform="translate(550.94 646.2) rotate(-50)" text-anchor="end" textLength="50.6" lengthAdjust="spacingAndGlyphs">21/06/22</text>
<text class="dt" transform="translate(561.66 646.2) rotate(-50)" text-anchor="end" textLength="50.6" lengthAdjust="spacingAndGlyphs">06/07/22</text>
<text class="dt" transform="translate(572.39 646.2) rotate(-50)" text-anchor="end" textLength="50.6" lengthAdjust="spacingAndGlyphs">21/07/22</text>
<text class="dt" transform="translate(583.11 646.2) rotate(-50)" text-anchor="end" textLength="50.6" lengthAdjust="spacingAndGlyphs">05/08/22</text>
<text class="dt" transform="translate(593.84 646.2) rotate(-50)" text-anchor="end" textLength="50.6" lengthAdjust="spacingAndGlyphs">20/08/22</text>
<text class="dt" transform="translate(604.56 646.2) rotate(-50)" text-anchor="end" textLength="50.6" lengthAdjust="spacingAndGlyphs">04/09/22</text>
<text class="dt" transform="translate(615.28 646.2) rotate(-50)" text-anchor="end" textLength="50.6" lengthAdjust="spacingAndGlyphs">19/09/22</text>
<text class="dt" transform="translate(626.01 646.2) rotate(-50)" text-anchor="end" textLength="50.6" lengthAdjust="spacingAndGlyphs">04/10/22</text>
<text class="dt" transform="translate(636.73 646.2) rotate(-50)" text-anchor="end" textLength="50.6" lengthAdjust="spacingAndGlyphs">19/10/22</text>
<text class="dt" transform="translate(647.46 646.2) rotate(-50)" text-anchor="end" textLength="50.6" lengthAdjust="spacingAndGlyphs">03/11/22</text>
<text class="dt" transform="translate(658.18 646.2) rotate(-50)" text-anchor="end" textLength="50.6" lengthAdjust="spacingAndGlyphs">18/11/22</text>
<text class="dt" transform="translate(668.91 646.2) rotate(-50)" text-anchor="end" textLength="50.6" lengthAdjust="spacingAndGlyphs">03/12/22</text>
<text class="dt" transform="translate(679.63 646.2) rotate(-50)" text-anchor="end" textLength="50.6" lengthAdjust="spacingAndGlyphs">18/12/22</text>
<text class="dt" transform="translate(690.36 646.2) rotate(-50)" text-anchor="end" textLength="50.6" lengthAdjust="spacingAndGlyphs">02/01/23</text>
<text class="dt" transform="translate(701.08 646.2) rotate(-50)" text-anchor="end" textLength="50.6" lengthAdjust="spacingAndGlyphs">17/01/23</text>
<text class="dt" transform="translate(711.81 646.2) rotate(-50)" text-anchor="end" textLength="50.6" lengthAdjust="spacingAndGlyphs">01/02/23</text>
<text class="dt" transform="translate(722.53 646.2) rotate(-50)" text-anchor="end" textLength="50.6" lengthAdjust="spacingAndGlyphs">16/02/23</text>
<text class="dt" transform="translate(733.26 646.2) rotate(-50)" text-anchor="end" textLength="50.6" lengthAdjust="spacingAndGlyphs">03/03/23</text>
<text class="dt" transform="translate(743.98 646.2) rotate(-50)" text-anchor="end" textLength="50.6" lengthAdjust="spacingAndGlyphs">18/03/23</text>
<text class="dt" transform="translate(754.71 646.2) rotate(-50)" text-anchor="end" textLength="50.6" lengthAdjust="spacingAndGlyphs">02/04/23</text>
<text class="dt" transform="translate(765.43 646.2) rotate(-50)" text-anchor="end" textLength="50.6" lengthAdjust="spacingAndGlyphs">17/04/23</text>
<text class="dt" transform="translate(776.16 646.2) rotate(-50)" text-anchor="end" textLength="50.6" lengthAdjust="spacingAndGlyphs">02/05/23</text>
<text class="dt" transform="translate(786.88 646.2) rotate(-50)" text-anchor="end" textLength="50.6" lengthAdjust="spacingAndGlyphs">17/05/23</text>
<text class="dt" transform="translate(797.6 646.2) rotate(-50)" text-anchor="end" textLength="50.6" lengthAdjust="spacingAndGlyphs">01/06/23</text>
<text class="dt" transform="translate(808.33 646.2) rotate(-50)" text-anchor="end" textLength="50.6" lengthAdjust="spacingAndGlyphs">16/06/23</text>
<text class="dt" transform="translate(819.05 646.2) rotate(-50)" text-anchor="end" textLength="50.6" lengthAdjust="spacingAndGlyphs">01/07/23</text>
<text class="dt" transform="translate(829.78 646.2) rotate(-50)" text-anchor="end" textLength="50.6" lengthAdjust="spacingAndGlyphs">16/07/23</text>
<text class="dt" transform="translate(840.5 646.2) rotate(-50)" text-anchor="end" textLength="50.6" lengthAdjust="spacingAndGlyphs">31/07/23</text>
<text class="dt" transform="translate(851.23 646.2) rotate(-50)" text-anchor="end" textLength="50.6" lengthAdjust="spacingAndGlyphs">15/08/23</text>
<text class="dt" transform="translate(861.95 646.2) rotate(-50)" text-anchor="end" textLength="50.6" lengthAdjust="spacingAndGlyphs">30/08/23</text>
<text class="dt" transform="translate(872.68 646.2) rotate(-50)" text-anchor="end" textLength="50.6" lengthAdjust="spacingAndGlyphs">14/09/23</text>
<text class="dt" transform="translate(883.4 646.2) rotate(-50)" text-anchor="end" textLength="50.6" lengthAdjust="spacingAndGlyphs">29/09/23</text>
<text class="dt" transform="translate(894.13 646.2) rotate(-50)" text-anchor="end" textLength="50.6" lengthAdjust="spacingAndGlyphs">14/10/23</text>
<text class="dt" transform="translate(904.85 646.2) rotate(-50)" text-anchor="end" textLength="50.6" lengthAdjust="spacingAndGlyphs">29/10/23</text>
<text class="dt" transform="translate(915.58 646.2) rotate(-50)" text-anchor="end" textLength="50.6" lengthAdjust="spacingAndGlyphs">13/11/23</text>
<text class="dt" transform="translate(926.3 646.2) rotate(-50)" text-anchor="end" textLength="50.6" lengthAdjust="spacingAndGlyphs">28/11/23</text>
<text class="dt" transform="translate(937.03 646.2) rotate(-50)" text-anchor="end" textLength="50.6" lengthAdjust="spacingAndGlyphs">13/12/23</text>
<text class="dt" transform="translate(947.75 646.2) rotate(-50)" text-anchor="end" textLength="50.6" lengthAdjust="spacingAndGlyphs">28/12/23</text>
<text class="dt" transform="translate(958.48 646.2) rotate(-50)" text-anchor="end" textLength="50.6" lengthAdjust="spacingAndGlyphs">12/01/24</text>
<text class="dt" transform="translate(969.2 646.2) rotate(-50)" text-anchor="end" textLength="50.6" lengthAdjust="spacingAndGlyphs">27/01/24</text>
<text y="711.4" font-style="italic" font-size="14" stroke="#000" stroke-width=".25"><tspan x="33.5" textLength="50.7" lengthAdjust="spacingAndGlyphs">Created</tspan> <tspan x="89.7" textLength="27.3" lengthAdjust="spacingAndGlyphs">with</tspan> <tspan x="122.3" textLength="29.9" lengthAdjust="spacingAndGlyphs">data</tspan> <tspan x="156.9" textLength="36.3" lengthAdjust="spacingAndGlyphs">taken</tspan> <tspan x="197.1" textLength="31.5" lengthAdjust="spacingAndGlyphs">from</tspan> <tspan x="234.3" textLength="37.5" lengthAdjust="spacingAndGlyphs">https:</tspan><tspan x="272.4" textLength="12.4" lengthAdjust="spacingAndGlyphs" font-size="16.5" stroke-width="0">//</tspan><tspan x="285.4" textLength="39" lengthAdjust="spacingAndGlyphs">www.</tspan><tspan x="324.8" textLength="59.4" lengthAdjust="spacingAndGlyphs">investing</tspan><tspan x="384.2" textLength="31.6" lengthAdjust="spacingAndGlyphs">.com</tspan></text>
<text class="an" x="166.7" y="95" fill="#1a3fdc" stroke="#1a3fdc" textLength="41" lengthAdjust="spacingAndGlyphs">28%</text>
<text class="an" x="466.5" y="91.4" fill="#000" stroke="#000" textLength="41" lengthAdjust="spacingAndGlyphs">19%</text>
<text class="an" x="789.5" y="93.3" fill="#000" stroke="#000" textLength="41" lengthAdjust="spacingAndGlyphs">26%</text>
<text class="an" x="924.9" y="67.2" fill="#000" stroke="#000" textLength="41" lengthAdjust="spacingAndGlyphs">14%</text>
<text class="an" x="260.5" y="236.1" fill="#000" stroke="#000" textLength="41" lengthAdjust="spacingAndGlyphs">14%</text>
<text class="an" x="421.3" y="227.3" fill="#1a3fdc" stroke="#1a3fdc" textLength="41" lengthAdjust="spacingAndGlyphs">23%</text>
<text class="an" x="637.2" y="314.3" fill="#1a3fdc" stroke="#1a3fdc" textLength="41" lengthAdjust="spacingAndGlyphs">34%</text>
<text class="an" x="770.9" y="226" fill="#1a3fdc" stroke="#1a3fdc" textLength="41" lengthAdjust="spacingAndGlyphs">30%</text>
<text class="an" x="924" y="252.6" fill="#1a3fdc" stroke="#1a3fdc" textLength="41" lengthAdjust="spacingAndGlyphs">21%</text>
<text class="an" x="121.3" y="423.6" fill="#e60000" stroke="#e60000" textLength="49" lengthAdjust="spacingAndGlyphs">-22%</text>
<text class="an" x="200.5" y="483.8" fill="#9c5a0f" stroke="#9c5a0f" textLength="49" lengthAdjust="spacingAndGlyphs">-18%</text>
<text class="an" x="301.2" y="440.3" fill="#9c5a0f" stroke="#9c5a0f" textLength="49" lengthAdjust="spacingAndGlyphs">-10%</text>
<text class="an" x="326.3" y="464.7" fill="#e60000" stroke="#e60000" textLength="49" lengthAdjust="spacingAndGlyphs">-26%</text>
<text class="an" x="573.6" y="614.4" fill="#e60000" stroke="#e60000" textLength="49" lengthAdjust="spacingAndGlyphs">-32%</text>
<text class="an" x="660.2" y="512.1" fill="#9c5a0f" stroke="#9c5a0f" textLength="49" lengthAdjust="spacingAndGlyphs">-21%</text>
<text class="an" x="721.5" y="540.9" fill="#e60000" stroke="#e60000" textLength="49" lengthAdjust="spacingAndGlyphs">-18%</text>
<text class="an" x="856.4" y="488.3" fill="#e60000" stroke="#e60000" textLength="49" lengthAdjust="spacingAndGlyphs">-20%</text>
<text class="an" x="891" y="341.9" fill="#9c5a0f" stroke="#9c5a0f" textLength="49" lengthAdjust="spacingAndGlyphs">-11%</text>
</svg>
</body></html>
